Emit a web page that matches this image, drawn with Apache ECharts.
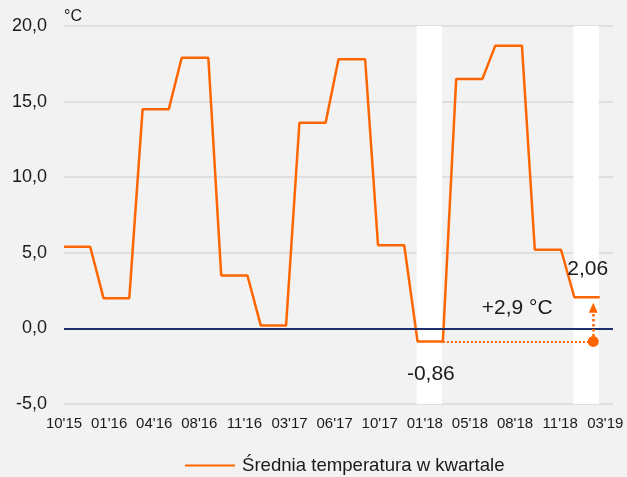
<!DOCTYPE html>
<html>
<head>
<meta charset="utf-8">
<script src="https://cdn.jsdelivr.net/npm/echarts@6/dist/echarts.min.js"></script>
<style>
  html, body { margin: 0; padding: 0; background: #f2f2f2; }
  #chart { width: 627px; height: 477px; }
</style>
</head>
<body>
<div id="chart"></div>
<script>
// monthly points (1st of month), quarterly averages held for 3 months
var months = [
  '2015-10','2015-11','2015-12','2016-01','2016-02','2016-03','2016-04','2016-05','2016-06',
  '2016-07','2016-08','2016-09','2016-10','2016-11','2016-12','2017-01','2017-02','2017-03',
  '2017-04','2017-05','2017-06','2017-07','2017-08','2017-09','2017-10','2017-11','2017-12',
  '2018-01','2018-02','2018-03','2018-04','2018-05','2018-06','2018-07','2018-08','2018-09',
  '2018-10','2018-11','2018-12','2019-01','2019-02','2019-03'
];
var temps = [
  5.4, 5.4, 5.4, 2.0, 2.0, 2.0, 14.5, 14.5, 14.5,
  17.9, 17.9, 17.9, 3.5, 3.5, 3.5, 0.2, 0.2, 0.2,
  13.6, 13.6, 13.6, 17.8, 17.8, 17.8, 5.5, 5.5, 5.5,
  -0.86, -0.86, -0.86, 16.5, 16.5, 16.5, 18.7, 18.7, 18.7,
  5.2, 5.2, 5.2, 2.06, 2.06, 2.06
];
var winterBands = [['2018-01', '2018-03'], ['2019-01', '2019-03']];
var seriesName = 'Średnia temperatura w kwartale';

var START = Date.UTC(2015, 9, 1);
function day(ym) {
  var p = ym.split('-');
  return Math.round((Date.UTC(+p[0], +p[1] - 1, 1) - START) / 86400000);
}
function fmt(v, d) {
  return v.toFixed(d).replace('.', ',');
}

var chartDom = document.getElementById('chart');
var myChart = echarts.init(chartDom);
var option;

var lineData = months.map(function (m, i) { return [day(m), temps[i]]; });
var lowVal = temps[27], lastVal = temps[temps.length - 1];
var arrowX = day('2019-02') + 13;
var diff = lastVal - lowVal;

option = {
  backgroundColor: '#f2f2f2',
  animation: false,
  textStyle: { fontFamily: 'Arial, "Liberation Sans", sans-serif' },
  grid: { left: 64, right: 14, top: 26, bottom: 73 },
  legend: {
    top: 451,
    left: 180,
    itemWidth: 50,
    itemHeight: 12,
    textStyle: { fontSize: 18.6, color: '#1a1a1a', padding: [0, 0, 0, 2] },
    data: [{ name: seriesName, icon: 'path://M0,5L50,5L50,7L0,7Z' }]
  },
  xAxis: {
    type: 'value',
    min: 0,
    max: day('2019-04'),
    interval: 105,
    axisLine: { show: false, onZero: false },
    axisTick: { show: false },
    splitLine: { show: false },
    axisLabel: {
      fontSize: 15,
      color: '#1a1a1a',
      margin: 12,
      showMaxLabel: false,
      formatter: function (v) {
        var d = new Date(START + v * 86400000);
        var mm = ('0' + (d.getUTCMonth() + 1)).slice(-2);
        var yy = String(d.getUTCFullYear()).slice(-2);
        return mm + "'" + yy;
      }
    }
  },
  yAxis: {
    type: 'value',
    min: -5,
    max: 20,
    interval: 5,
    name: '°C',
    nameLocation: 'end',
    nameGap: 1,
    nameTextStyle: { fontSize: 16, color: '#1a1a1a', align: 'left' },
    axisLine: { show: false },
    axisTick: { show: false },
    splitLine: { lineStyle: { color: '#d9d9d9', width: 1.5 } },
    axisLabel: {
      fontSize: 18,
      color: '#1a1a1a',
      margin: 17,
      formatter: function (v) { return fmt(v, 1); }
    }
  },
  series: [
    {
      // white winter bands, under the grid lines
      type: 'line',
      z: -1,
      silent: true,
      data: [],
      markArea: {
        silent: true,
        itemStyle: { color: '#ffffff' },
        data: winterBands.map(function (b) {
          return [{ xAxis: day(b[0]) - 2 }, { xAxis: day(b[1]) - 2 }];
        })
      }
    },
    {
      name: seriesName,
      type: 'line',
      data: lineData,
      showSymbol: false,
      lineStyle: { color: '#ff6600', width: 2.5 },
      itemStyle: { color: '#ff6600' },
      markLine: {
        silent: true,
        animation: false,
        label: { show: false },
        data: [
          [
            { coord: [0, 0], symbol: 'none', lineStyle: { color: '#1c2f6b', type: 'solid', width: 2 } },
            { coord: [day('2019-04'), 0], symbol: 'none' }
          ],
          [
            { coord: [day('2018-03'), lowVal], symbol: 'none', lineStyle: { color: '#ff6600', type: 'dotted', width: 2 } },
            { coord: [arrowX, lowVal], symbol: 'none' }
          ],
          [
            { coord: [arrowX, lowVal], symbol: 'circle', symbolSize: 11, lineStyle: { color: '#ff6600', type: 'dotted', width: 2.5 } },
            { coord: [arrowX, lastVal - 0.7], symbol: 'triangle', symbolSize: [9, 10] }
          ]
        ]
      },
      markPoint: {
        silent: true,
        symbol: 'circle',
        symbolSize: 0,
        label: { fontSize: 21, color: '#1a1a1a' },
        data: [
          { coord: [day('2018-02'), lowVal], value: fmt(lowVal, 2), label: { offset: [0, 33] } },
          { coord: [day('2019-02'), lastVal], value: fmt(lastVal, 2), label: { offset: [0, -28] } },
          { coord: [1055, lowVal], value: '+' + fmt(diff, 1) + ' °C', label: { offset: [0, -33] } }
        ]
      }
    }
  ]
};

option && myChart.setOption(option);
</script>
</body>
</html>
